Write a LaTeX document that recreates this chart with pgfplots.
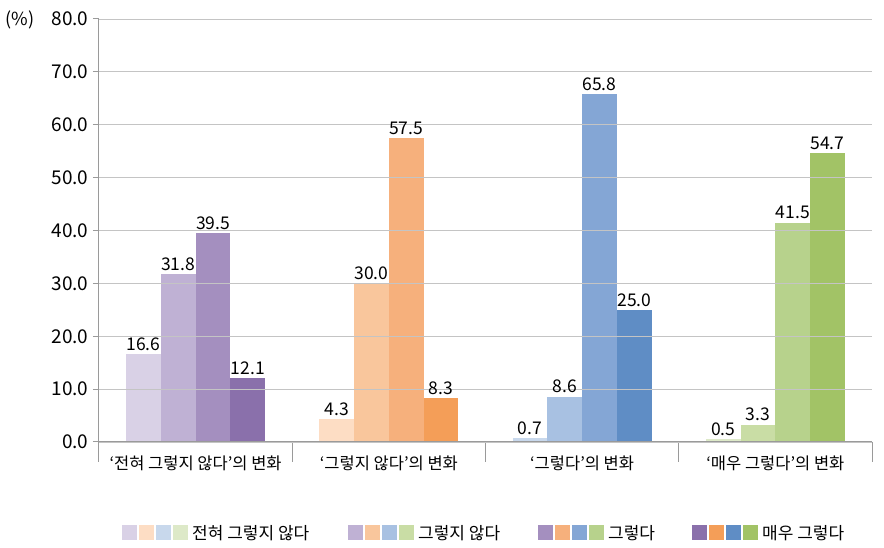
\documentclass[border=0pt]{standalone}
\usepackage{pgfplots}
\pgfplotsset{compat=1.18}
\usepackage{fontspec}
\setmainfont{Noto Sans CJK KR}
\definecolor{Pa}{HTML}{D9D1E6}\definecolor{Pb}{HTML}{BFB1D4}\definecolor{Pc}{HTML}{A48FBF}\definecolor{Pd}{HTML}{8A70AB}
\definecolor{Oa}{HTML}{FDDDC4}\definecolor{Ob}{HTML}{F9C69C}\definecolor{Oc}{HTML}{F6B07C}\definecolor{Od}{HTML}{F49E58}
\definecolor{Ba}{HTML}{C8D8EC}\definecolor{Bb}{HTML}{A8C1E2}\definecolor{Bc}{HTML}{84A6D5}\definecolor{Bd}{HTML}{5F8DC5}
\definecolor{Ga}{HTML}{DDE9C8}\definecolor{Gb}{HTML}{C9DDA5}\definecolor{Gc}{HTML}{B7D28C}\definecolor{Gd}{HTML}{A2C366}
\definecolor{axisgray}{HTML}{9A9A9A}
\definecolor{gridgray}{HTML}{C4C4C4}
\begin{document}
\begin{tikzpicture}
\path[use as bounding box] (-99pt,-106pt) rectangle (785pt,442pt);
\begin{axis}[
  at={(0pt,0pt)}, anchor=south west,
  scale only axis, width=773pt, height=423pt,
  xmin=-0.5, xmax=3.5, ymin=0, ymax=80,
  ybar, bar width=0.18,
  axis x line*=bottom, axis y line*=left,
  axis line style={draw=axisgray, line width=1pt},
  axis on top,
  ytick={0,10,...,80},
  yticklabel style={font=\fontsize{19}{21}\selectfont, xshift=-1pt, /pgf/number format/fixed, /pgf/number format/fixed zerofill, /pgf/number format/precision=1, /pgf/number format/assume math mode=true},
  tick align=outside, major tick length=6pt,
  tick style={draw=axisgray, line width=1pt},
  every major x tick/.append style={draw=none},
  xtick={0,1,2,3},
  xticklabels={‘전혀 그렇지 않다’의 변화, ‘그렇지 않다’의 변화, ‘그렇다’의 변화, ‘매우 그렇다’의 변화},
  xticklabel style={font=\fontsize{16.5}{18}\selectfont, yshift=-4pt},
  ymajorgrids, grid style={draw=gridgray, line width=0.9pt},
  nodes near coords,
  nodes near coords style={font=\fontsize{17.5}{19}\selectfont, /pgf/number format/fixed, /pgf/number format/fixed zerofill, /pgf/number format/precision=1, /pgf/number format/assume math mode=true},
  every axis plot/.append style={draw=none},
  clip=false,
]
% group 1
\addplot[fill=Pa, bar shift=-0.27] coordinates {(0,16.6)};
\addplot[fill=Pb, bar shift=-0.09] coordinates {(0,31.8)};
\addplot[fill=Pc, bar shift=0.09] coordinates {(0,39.5)};
\addplot[fill=Pd, bar shift=0.27] coordinates {(0,12.1)};
% group 2
\addplot[fill=Oa, bar shift=-0.27] coordinates {(1,4.3)};
\addplot[fill=Ob, bar shift=-0.09] coordinates {(1,30.0)};
\addplot[fill=Oc, bar shift=0.09] coordinates {(1,57.5)};
\addplot[fill=Od, bar shift=0.27] coordinates {(1,8.3)};
% group 3
\addplot[fill=Ba, bar shift=-0.27] coordinates {(2,0.7)};
\addplot[fill=Bb, bar shift=-0.09] coordinates {(2,8.6)};
\addplot[fill=Bc, bar shift=0.09] coordinates {(2,65.8)};
\addplot[fill=Bd, bar shift=0.27] coordinates {(2,25.0)};
% group 4
\addplot[fill=Ga, bar shift=-0.27] coordinates {(3,0.5)};
\addplot[fill=Gb, bar shift=-0.09] coordinates {(3,3.3)};
\addplot[fill=Gc, bar shift=0.09] coordinates {(3,41.5)};
\addplot[fill=Gd, bar shift=0.27] coordinates {(3,54.7)};
% group separators
\foreach \s in {-0.5,0.5,1.5,2.5,3.5}{
  \edef\tmp{\noexpand\draw[axisgray, line width=1pt] (axis cs:\s,0) -- ++(0pt,-20pt);}\tmp
}
\end{axis}
\node[font=\fontsize{18}{20}\selectfont] at (-79pt,422pt) {(\%)};
% legend
\newcommand{\legendentry}[6]{%
  \fill[#2] (#1pt-99pt,-83.5pt) rectangle ++(15pt,-15pt);
  \fill[#3] (#1pt-82pt,-83.5pt) rectangle ++(15pt,-15pt);
  \fill[#4] (#1pt-65pt,-83.5pt) rectangle ++(15pt,-15pt);
  \fill[#5] (#1pt-48pt,-83.5pt) rectangle ++(15pt,-15pt);
  \node[anchor=west, inner sep=0pt, font=\fontsize{17}{19}\selectfont] at (#1pt-29pt,-91pt) {#6};
}
\legendentry{122}{Pa}{Oa}{Ba}{Ga}{전혀 그렇지 않다}
\legendentry{348}{Pb}{Ob}{Bb}{Gb}{그렇지 않다}
\legendentry{538}{Pc}{Oc}{Bc}{Gc}{그렇다}
\legendentry{692}{Pd}{Od}{Bd}{Gd}{매우 그렇다}
\end{tikzpicture}
\end{document}
